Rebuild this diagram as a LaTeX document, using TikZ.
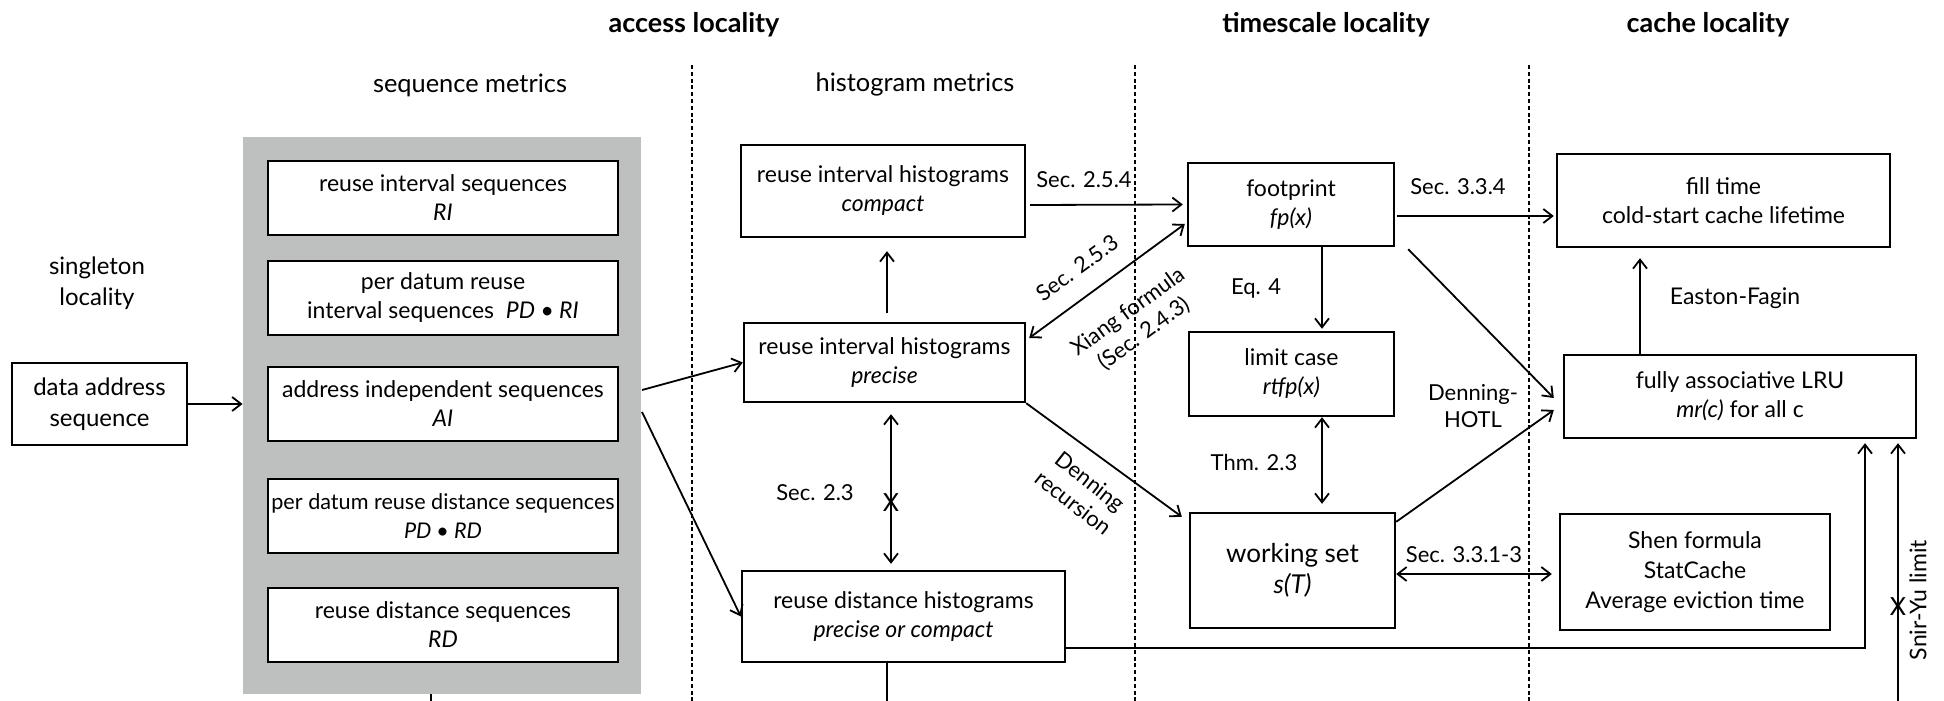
\documentclass[tikz,border=0pt]{standalone}
\usepackage{fontspec}
\setmainfont{Lato}
\usetikzlibrary{arrows.meta,calc}
\definecolor{grayfill}{RGB}{190,191,191}
\begin{document}
\begin{tikzpicture}[x=0.5pt,y=-0.5pt,
  every node/.style={font=\fontsize{11.5}{14.5}\selectfont, inner sep=0pt},
  box/.style={draw, line width=1.2pt, align=center, fill=white},
  lbl/.style={align=center, font=\fontsize{11}{13.5}\selectfont},
  ttl/.style={font=\fontsize{13.5}{16}\selectfont\bfseries},
  sub/.style={font=\fontsize{12.7}{15}\selectfont},
  arr/.style={line width=0.9pt, -{Straight Barb[length=4.5pt,width=7pt]}},
  darr/.style={line width=0.9pt, {Straight Barb[length=4.5pt,width=7pt]}-{Straight Barb[length=4.5pt,width=7pt]}},
  ln/.style={line width=0.9pt},
  xmark/.style={font=\fontsize{12.5}{13}\selectfont},
  sep/.style={line width=0.75pt, dash pattern=on 2pt off 1.4pt}]
\useasboundingbox (0,0) rectangle (1944,701);

% separators
\coordinate (d1t) at (692,65);  \coordinate (d1b) at (692,701);
\coordinate (d2t) at (1135,65); \coordinate (d2b) at (1135,701);
\coordinate (d3t) at (1529,65); \coordinate (d3b) at (1529,701);
\draw[sep] (d1t) -- (d1b);
\draw[sep] (d2t) -- (d2b);
\draw[sep] (d3t) -- (d3b);

% titles
\node[ttl] (t1) at (694,25) {access locality};
\node[ttl] (t2) at (1326,25) {timescale locality};
\node[ttl] (t3) at (1708,25) {cache locality};
\node[sub] (s1) at (470,85) {sequence metrics};
\node[sub] (s2) at (915,84) {histogram metrics};
\node[align=center,font=\fontsize{12}{15.5}\selectfont] (sl) at (97,283) {singleton\\locality};

% left
\node[box, minimum width=87.5pt, minimum height=41pt, font=\fontsize{12}{15.5}\selectfont] (das) at (99.5,404) {data address\\sequence};
\node[fill=grayfill, minimum width=199pt, minimum height=278.5pt] (gray) at (442,415.5) {};
\node[box, minimum width=175pt, minimum height=37pt] (ri) at (443,198) {reuse interval sequences\\\textit{RI}};
\node[box, minimum width=175pt, minimum height=37pt] (pdri) at (443,298) {per datum reuse\\interval sequences\ \ \textit{PD • RI}};
\node[box, minimum width=175pt, minimum height=37pt] (ai) at (443,404) {address independent sequences\\\textit{AI}};
\node[box, minimum width=175pt, minimum height=37pt, font=\fontsize{10.8}{14.5}\selectfont] (pdrd) at (443,516) {per datum reuse distance sequences\\\textit{PD • RD}};
\node[box, minimum width=175pt, minimum height=37pt] (rd) at (443,625) {reuse distance sequences\\\textit{RD}};

% histograms
\node[box, minimum width=142pt, minimum height=46pt] (ric) at (883,191) {reuse interval histograms\\\textit{compact}};
\node[box, minimum width=140.5pt, minimum height=39.5pt] (rip) at (884.5,362.5) {reuse interval histograms\\\textit{precise}};
\node[box, minimum width=161.5pt, minimum height=45.5pt] (rdh) at (903.5,616.5) {reuse distance histograms\\\textit{precise or compact}};

% timescale
\node[box, minimum width=103pt, minimum height=41.5pt] (fp) at (1291,204.5) {footprint\\\textit{fp(x)}};
\node[box, minimum width=102.5pt, minimum height=42pt] (lim) at (1291.5,374) {limit case\\\textit{rtfp(x)}};
\node[box, minimum width=102.5pt, minimum height=57.5pt, font=\fontsize{13}{15.5}\selectfont] (ws) at (1292.5,570.5) {working set\\\textit{s(T)}};

% cache
\node[box, minimum width=166.5pt, minimum height=46.5pt] (fill) at (1723.5,200.5) {fill time\\cold-start cache lifetime};
\node[box, minimum width=176pt, minimum height=41.5pt] (lru) at (1740,396.5) {fully associative LRU\\\textit{mr(c)} for all c};
\node[box, minimum width=135pt, minimum height=58pt, font=\fontsize{11.5}{15}\selectfont] (shen) at (1695,572) {Shen formula\\StatCache\\Average eviction time};

% connectors
\coordinate (g1) at (642,390);
\coordinate (g2) at (642,412);
\draw[arr] (das.east) -- (das.east -| gray.west);
\draw[arr] (g1) -- (rip.west);
\draw[arr] (g2) -- (rdh.west);
\draw[arr] ([xshift=1.25pt,yshift=4.5pt]rip.north) -- ([xshift=2pt,yshift=-6.5pt]ric.south);
\draw[darr] ([xshift=3.25pt,yshift=-5.5pt]rip.south) -- ([xshift=-6.25pt,yshift=3pt]rdh.north);
\node[xmark] (x1) at (891,503) {X};
\node[lbl] (l23) at (815,493) {Sec. 2.3};

\draw[arr] ([xshift=2pt,yshift=-7pt]ric.east) -- ([xshift=-2pt]fp.west);
\node[lbl] (l254) at (1084,180) {Sec. 2.5.4};
\draw[darr] ([xshift=-1pt,yshift=-9.75pt]fp.west) -- ([xshift=1.5pt,yshift=12.25pt]rip.east);
\node[lbl, rotate=36] (l253) at (1077,268) {Sec. 2.5.3};
\node[lbl, rotate=36] (lx) at (1136,323) {Xiang formula\\(Sec. 2.4.3)};
\draw[arr] (rip.south east) -- ([xshift=-3.5pt,yshift=-2.5pt]ws.north west);
\node[lbl, rotate=-38] (lden) at (1082,492) {Denning\\recursion};

\draw[arr] ([xshift=15.5pt]fp.south) -- ([xshift=15.25pt,yshift=1pt]lim.north);
\node[lbl] (leq) at (1256,289) {Eq. 4};
\draw[darr] ([xshift=15.25pt]lim.south) -- ([xshift=14.75pt,yshift=4pt]ws.north);
\node[lbl] (lthm) at (1254,462) {Thm. 2.3};

\draw[arr] ([xshift=1pt,yshift=-5.75pt]fp.east) -- ([xshift=-1pt,yshift=-7.75pt]fill.west);
\node[lbl] (l334) at (1458,187) {Sec. 3.3.4};
\draw[arr] ([xshift=6.5pt,yshift=-1pt]fp.south east) -- ([xshift=-4.5pt,yshift=-0.75pt]lru.west);
\node[lbl] (lhotl) at (1473,406) {Denning-\\HOTL};
\draw[arr] ([yshift=-5pt]ws.north east) -- ([xshift=-4.5pt,yshift=-6.75pt]lru.west);
\draw[darr] ([yshift=-1.75pt]ws.east) -- ([xshift=-3.5pt,yshift=-1pt]shen.west);
\node[lbl] (l331) at (1464,555) {Sec. 3.3.1-3};

\draw[arr] ([xshift=-50pt]lru.north) -- ([xshift=-41.75pt,yshift=-5pt]fill.south);
\node[lbl, font=\fontsize{11.5}{14}\selectfont] (lef) at (1735,298) {Easton-Fagin};

\draw[arr] ([yshift=-15.75pt]rdh.east) -| ([xshift=62.5pt,yshift=-2pt]lru.south);
\coordinate (sy) at (1898,701);
\draw[arr] (sy) -- ([xshift=79pt,yshift=-2pt]lru.south);
\node[xmark] (x2) at (1898,607) {X};
\node[lbl, rotate=90, font=\fontsize{11.5}{14}\selectfont] (lsy) at (1918,600) {Snir-Yu limit};

\coordinate (st1) at (431,701);
\coordinate (st2) at (887,701);
\draw[ln] (gray.south -| st1) -- (st1);
\draw[ln] (rdh.south -| st2) -- (st2);
\end{tikzpicture}
\end{document}
